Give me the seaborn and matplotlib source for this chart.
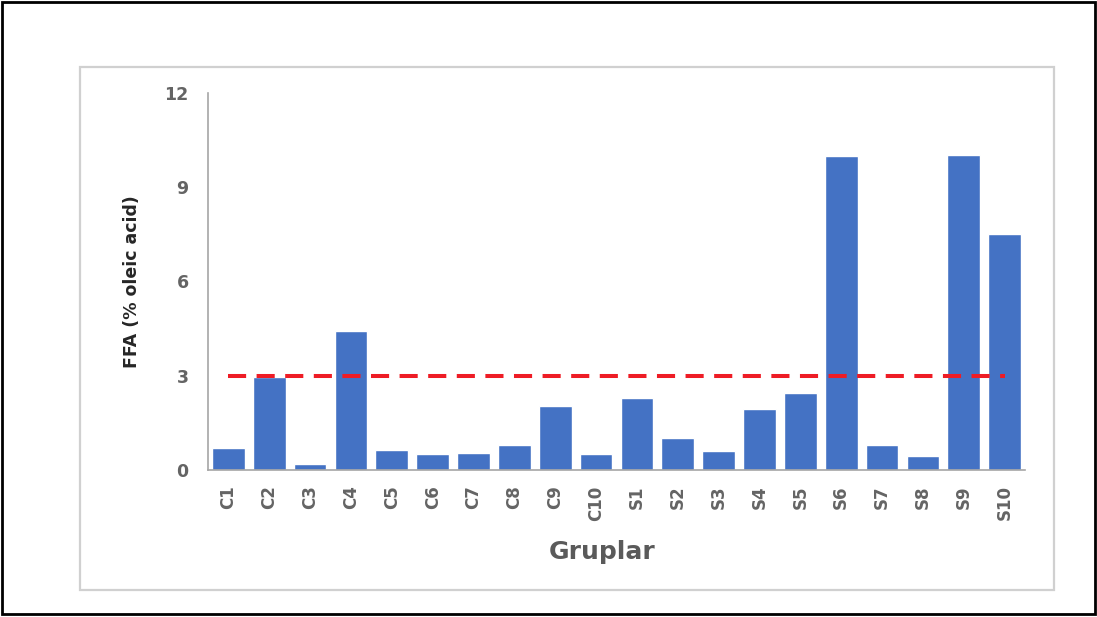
import matplotlib
matplotlib.use('Agg')
import matplotlib.pyplot as plt
import seaborn as sns
from matplotlib.patches import Rectangle

# Grup adları ve FFA değerleri (% oleik asit)
groups = ['C1', 'C2', 'C3', 'C4', 'C5', 'C6', 'C7', 'C8', 'C9', 'C10',
          'S1', 'S2', 'S3', 'S4', 'S5', 'S6', 'S7', 'S8', 'S9', 'S10']
ffa = [0.70, 2.95, 0.19, 4.43, 0.65, 0.52, 0.55, 0.80, 2.05, 0.50,
       2.30, 1.03, 0.59, 1.93, 2.45, 10.00, 0.80, 0.45, 10.03, 7.50]
limit = 3  # sınır değeri
y_ticks = [0, 3, 6, 9, 12]

sns.set_style('white')
plt.rcParams['font.family'] = ['DejaVu Sans']

W, H = 1097, 617
fig = plt.figure(figsize=(W / 100, H / 100), dpi=100)
ax = fig.add_axes([208 / W, 1 - 470 / H, (1025 - 208) / W, (470 - 93) / H])

sns.barplot(x=groups, y=ffa, color='#4472C4', saturation=1, width=0.8, ax=ax)
ax.hlines(limit, 0, len(groups) - 1, colors='#ee1c25', linewidth=2.9,
          linestyles=(0, (4.5, 2.6)), zorder=5)

ax.set_ylim(0, 12)
ax.set_xlim(-0.5, len(groups) - 0.5)
ax.set_yticks(y_ticks)
ax.set_yticklabels([str(t) for t in y_ticks], fontsize=12.5, fontweight='bold', color='#646464')
ax.set_xticks(range(len(groups)))
ax.set_xticklabels(groups, rotation=90, fontsize=12, fontweight='bold', color='#646464')
ax.set_xticks([i - 0.5 for i in range(len(groups) + 1)], minor=True)
ax.tick_params(axis='x', which='major', length=0, pad=11)
ax.tick_params(axis='x', which='minor', length=4, color='#a6a6a6', width=1)
ax.tick_params(axis='y', length=7, color='#a6a6a6', width=1, pad=7)

for s in ['top', 'right']:
    ax.spines[s].set_visible(False)
for s in ['left', 'bottom']:
    ax.spines[s].set_color('#a6a6a6')
    ax.spines[s].set_linewidth(1.2)

ax.set_ylabel('FFA (% oleic acid)', fontsize=12.5, fontweight='bold', color='#262626')
ax.yaxis.set_label_coords((132 - 208) / (1025 - 208), 0.5)
ax.yaxis.label.set_va('center')
ax.set_xlabel('Gruplar', fontsize=18, fontweight='bold', color='#5a5a5a')
ax.xaxis.set_label_coords((602 - 208) / (1025 - 208), -(552 - 470) / (470 - 93))
ax.xaxis.label.set_va('center')

# grafik alanı çerçevesi ve dış çerçeve
fig.patches.append(Rectangle((80 / W, 1 - 590 / H), (1054 - 80) / W, (590 - 67) / H,
                             transform=fig.transFigure, fill=False,
                             edgecolor='#d0d0d0', linewidth=1.6))
fig.patches.append(Rectangle((2 / W, 1 - 614 / H), (1095 - 2) / W, (614 - 2) / H,
                             transform=fig.transFigure, fill=False,
                             edgecolor='black', linewidth=2))

fig.savefig('out.png', dpi=100)
